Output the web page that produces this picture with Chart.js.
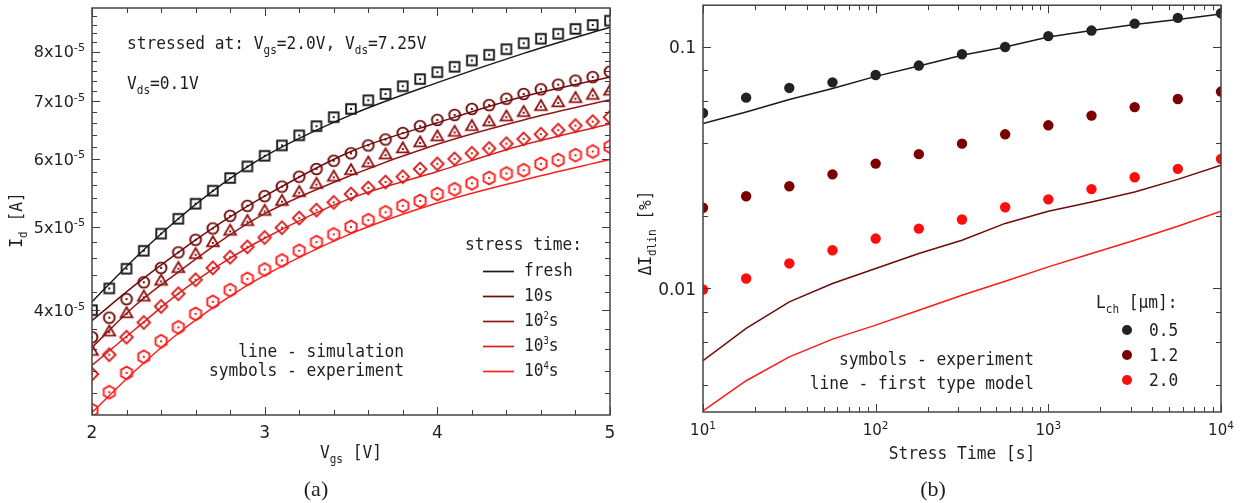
<!DOCTYPE html>
<html><head><meta charset="utf-8">
<script src="https://cdn.jsdelivr.net/npm/chart.js@4.4.0/dist/chart.umd.min.js"></script>
<style>
html,body{margin:0;padding:0;background:#fff;width:1246px;height:503px;overflow:hidden}
#ca{position:absolute;left:0;top:0}
#cb{position:absolute;left:623px;top:0}
</style></head><body>
<canvas id="ca" width="623" height="503"></canvas>
<canvas id="cb" width="623" height="503"></canvas>
<script>
// ---------------- Panel (a) data ----------------
const vgs = [2.0,2.1,2.2,2.3,2.4,2.5,2.6,2.7,2.8,2.9,3.0,3.1,3.2,3.3,3.4,3.5,3.6,3.7,3.8,3.9,4.0,4.1,4.2,4.3,4.4,4.5,4.6,4.7,4.8,4.9,5.0];
const expFresh = [4.00e-5,4.24e-5,4.47e-5,4.69e-5,4.91e-5,5.11e-5,5.32e-5,5.51e-5,5.70e-5,5.88e-5,6.05e-5,6.22e-5,6.39e-5,6.55e-5,6.71e-5,6.86e-5,7.02e-5,7.14e-5,7.29e-5,7.43e-5,7.57e-5,7.68e-5,7.81e-5,7.93e-5,8.05e-5,8.18e-5,8.28e-5,8.39e-5,8.50e-5,8.59e-5,8.69e-5];
const exp10s = [3.72e-5,3.92e-5,4.12e-5,4.31e-5,4.48e-5,4.67e-5,4.83e-5,4.98e-5,5.15e-5,5.29e-5,5.43e-5,5.57e-5,5.72e-5,5.84e-5,5.97e-5,6.09e-5,6.22e-5,6.32e-5,6.43e-5,6.55e-5,6.66e-5,6.75e-5,6.86e-5,6.93e-5,7.05e-5,7.14e-5,7.23e-5,7.32e-5,7.40e-5,7.47e-5,7.58e-5];
const exp100s = [3.58e-5,3.77e-5,3.96e-5,4.14e-5,4.32e-5,4.47e-5,4.64e-5,4.79e-5,4.94e-5,5.07e-5,5.21e-5,5.35e-5,5.48e-5,5.60e-5,5.71e-5,5.81e-5,5.93e-5,6.06e-5,6.16e-5,6.26e-5,6.36e-5,6.44e-5,6.54e-5,6.62e-5,6.71e-5,6.79e-5,6.90e-5,6.97e-5,7.05e-5,7.11e-5,7.19e-5];
const exp1000s = [3.37e-5,3.55e-5,3.72e-5,3.87e-5,4.04e-5,4.18e-5,4.34e-5,4.48e-5,4.61e-5,4.74e-5,4.86e-5,4.99e-5,5.12e-5,5.23e-5,5.34e-5,5.46e-5,5.55e-5,5.64e-5,5.72e-5,5.84e-5,5.92e-5,6.00e-5,6.09e-5,6.17e-5,6.25e-5,6.33e-5,6.41e-5,6.48e-5,6.56e-5,6.63e-5,6.71e-5];
const exp10000s = [3.06e-5,3.21e-5,3.38e-5,3.53e-5,3.68e-5,3.82e-5,3.96e-5,4.09e-5,4.22e-5,4.35e-5,4.46e-5,4.57e-5,4.69e-5,4.80e-5,4.90e-5,5.00e-5,5.09e-5,5.20e-5,5.29e-5,5.36e-5,5.46e-5,5.53e-5,5.62e-5,5.70e-5,5.77e-5,5.82e-5,5.92e-5,5.98e-5,6.06e-5,6.12e-5,6.20e-5];
const vgsSim = [2.0,2.25,2.5,2.75,3.0,3.5,4.0,4.5,5.0];
const simFresh = [4.09e-5,4.60e-5,5.11e-5,5.60e-5,6.04e-5,6.75e-5,7.36e-5,7.96e-5,8.54e-5];
const sim10s = [3.89e-5,4.28e-5,4.67e-5,5.06e-5,5.43e-5,6.12e-5,6.61e-5,7.09e-5,7.47e-5];
const sim100s = [3.62e-5,4.05e-5,4.43e-5,4.82e-5,5.18e-5,5.74e-5,6.24e-5,6.66e-5,7.03e-5];
const sim1000s = [3.45e-5,3.80e-5,4.18e-5,4.53e-5,4.85e-5,5.40e-5,5.80e-5,6.23e-5,6.59e-5];
const sim10000s = [3.04e-5,3.40e-5,3.76e-5,4.09e-5,4.39e-5,4.91e-5,5.33e-5,5.67e-5,5.99e-5];
const seriesLabelsA = ['fresh','10s','10^{2}s','10^{3}s','10^{4}s'];
const xTicksA = [2.0,2.2,2.4,2.6,2.8,3.0,3.2,3.4,3.6,3.8,4.0,4.2,4.4,4.6,4.8,5.0];
const xMajorA = [2,3,4,5];
const xLabelsA = ['2','3','4','5'];
const yTicksA = [3.2e-5,3.4e-5,3.6e-5,3.8e-5,4.0e-5,4.2e-5,4.4e-5,4.6e-5,4.8e-5,5.0e-5,5.2e-5,5.4e-5,5.6e-5,5.8e-5,6.0e-5,6.2e-5,6.4e-5,6.6e-5,6.8e-5,7.0e-5,7.2e-5,7.4e-5,7.6e-5,7.8e-5,8.0e-5,8.2e-5,8.4e-5,8.6e-5,8.8e-5];
const yMajorA = [4e-5,5e-5,6e-5,7e-5,8e-5];
const yLabelsA = ['4x10^{-5}','5x10^{-5}','6x10^{-5}','7x10^{-5}','8x10^{-5}'];

// ---------------- Panel (b) data ----------------
const stressTime = [10,17.78,31.62,56.23,100,177.8,316.2,562.3,1000,1778,3162,5623,10000];
const expL05 = [0.0533,0.0617,0.0677,0.0714,0.0766,0.0838,0.0933,0.100,0.111,0.117,0.125,0.132,0.138];
const expL12 = [0.0216,0.0241,0.0265,0.0297,0.0329,0.0360,0.0398,0.0435,0.0474,0.0520,0.0564,0.0609,0.0654];
const expL20 = [0.0099,0.0110,0.0127,0.0144,0.0161,0.0177,0.0193,0.0217,0.0234,0.0258,0.0289,0.0313,0.0344];
const modL05 = [0.0482,0.0538,0.0606,0.0673,0.0756,0.0835,0.0924,0.100,0.110,0.117,0.124,0.130,0.137];
const modL12 = [0.00502,0.00683,0.0088,0.01049,0.0121,0.01396,0.01585,0.0186,0.0209,0.0228,0.0251,0.0283,0.0324];
const modL20 = [0.00311,0.00415,0.00521,0.00617,0.00705,0.00813,0.00938,0.01072,0.01229,0.01396,0.01585,0.0181,0.0209];
const seriesLabelsB = ['0.5','1.2','2.0'];
const xTicksB = [10,20,30,40,50,60,70,80,90,100,200,300,400,500,600,700,800,900,1000,2000,3000,4000,5000,6000,7000,8000,9000,10000];
const xMajorB = [10,100,1000,10000];
const xLabelsB = ['10^{1}','10^{2}','10^{3}','10^{4}'];
const yTicksB = [0.004,0.006,0.008,0.01,0.02,0.04,0.06,0.08,0.1];
const yMajorB = [0.01,0.1];
const yLabelsB = ['0.01','0.1'];

// ---------------- styling ----------------
const colorsA = ['#1a1a1a','#6e0b0b','#921414','#d81e1e','#ff1e1e'];
const shapesA = ['square','circle','triangle','diamond','hexagon'];
const colorsB = ['#222222','#7d0000','#ff0d0d'];
const lineColorsB = ['#1a1a1a','#6e0a0a','#ff1a1a'];
const MONO = '"DejaVu Sans Mono", monospace';
const SANS = '"DejaVu Sans", sans-serif';
const SERIF = '"Liberation Serif", serif';
const TXT = '#1e1e1e';
const MONO_OPT = {size:18, fam:MONO, sx:0.9, subScale:0.68};

function makeMarker(shape, color){
  const s = 20, m = s/2;
  const c = document.createElement('canvas'); c.width = s; c.height = s;
  const g = c.getContext('2d');
  g.strokeStyle = color; g.fillStyle = color; g.lineWidth = 1.9;
  g.beginPath();
  if (shape === 'square') { g.rect(m-4.8, m-4.8, 9.6, 9.6); }
  else if (shape === 'circle') { g.arc(m, m, 5.4, 0, 2*Math.PI); }
  else if (shape === 'triangle') { const r = 6.7; g.moveTo(m, m-r); g.lineTo(m+r*0.866, m+r*0.5); g.lineTo(m-r*0.866, m+r*0.5); g.closePath(); }
  else if (shape === 'diamond') { const r = 6.3; g.moveTo(m, m-r); g.lineTo(m+r, m); g.lineTo(m, m+r); g.lineTo(m-r, m); g.closePath(); }
  else if (shape === 'hexagon') { const r = 6.4; for (let k=0;k<6;k++){ const a = -Math.PI/2 + k*Math.PI/3; const px = m + r*Math.cos(a), py = m + r*Math.sin(a); if(k===0) g.moveTo(px,py); else g.lineTo(px,py);} g.closePath(); }
  g.stroke();
  g.fillRect(m-1, m-1, 2, 2);
  return c;
}

function parseRich(s){
  const out = []; let buf = ''; let i = 0;
  while (i < s.length) {
    if ((s[i] === '_' || s[i] === '^') && s[i+1] === '{') {
      if (buf) { out.push({t:buf, m:0}); buf = ''; }
      const j = s.indexOf('}', i);
      out.push({t:s.slice(i+2, j), m: s[i] === '_' ? 1 : 2});
      i = j + 1;
    } else { buf += s[i]; i++; }
  }
  if (buf) out.push({t:buf, m:0});
  return out;
}
function drawRich(ctx, s, x, cy, o){
  const size = o.size, fam = o.fam, ss = size*(o.subScale||0.7), sxf = o.sx || 1;
  const parts = parseRich(s);
  let w = 0;
  parts.forEach(p => { ctx.font = `${p.m ? ss : size}px ${fam}`; p.w = ctx.measureText(p.t).width*sxf; w += p.w; });
  let px = o.align === 'right' ? x - w : (o.align === 'center' ? x - w/2 : x);
  const base = cy + size*0.36;
  ctx.fillStyle = o.color || TXT; ctx.textBaseline = 'alphabetic'; ctx.textAlign = 'left';
  parts.forEach(p => {
    ctx.font = `${p.m ? ss : size}px ${fam}`;
    const dy = p.m === 1 ? size*0.24 : (p.m === 2 ? -size*0.40 : 0);
    ctx.save(); ctx.translate(px, base + dy); ctx.scale(sxf, 1);
    ctx.fillText(p.t, 0, 0);
    ctx.restore();
    px += p.w;
  });
}
function drawRichRot(ctx, s, x, cy, o){
  ctx.save(); ctx.translate(x, cy); ctx.rotate(-Math.PI/2);
  drawRich(ctx, s, 0, 0, Object.assign({}, o, {align:'center'}));
  ctx.restore();
}
const isMaj = (v, list) => list.some(m => Math.abs(m - v) <= Math.abs(m)*1e-6);
function frameAndTicks(chart, xMajor, yMajor){
  const {ctx, chartArea:a, scales:{x, y}} = chart;
  ctx.save();
  ctx.strokeStyle = '#3a3a3a'; ctx.lineWidth = 1;
  ctx.beginPath();
  x.ticks.forEach(t => {
    const p = Math.round(x.getPixelForValue(t.value)) + 0.5;
    const L = isMaj(t.value, xMajor) ? 8 : 5;
    ctx.moveTo(p, a.bottom); ctx.lineTo(p, a.bottom - L);
    ctx.moveTo(p, a.top); ctx.lineTo(p, a.top + L);
  });
  y.ticks.forEach(t => {
    const p = Math.round(y.getPixelForValue(t.value)) + 0.5;
    const L = isMaj(t.value, yMajor) ? 8 : 5;
    ctx.moveTo(a.left, p); ctx.lineTo(a.left + L, p);
    ctx.moveTo(a.right, p); ctx.lineTo(a.right - L, p);
  });
  ctx.stroke();
  ctx.lineWidth = 1.5; ctx.strokeStyle = '#444';
  ctx.strokeRect(a.left, a.top, a.right - a.left, a.bottom - a.top);
  ctx.restore();
}
function tickLabels(chart, xMajor, xLabels, yMajor, yLabels, xo, yo){
  const {ctx, chartArea:a, scales:{x, y}} = chart;
  xMajor.forEach((v, i) => drawRich(ctx, xLabels[i], x.getPixelForValue(v), a.bottom + xo.dy, {size:xo.size, fam:SANS, align:'center'}));
  yMajor.forEach((v, i) => drawRich(ctx, yLabels[i], a.left - yo.dx, y.getPixelForValue(v), {size:yo.size, fam:SANS, align:'right'}));
}

// ---------------- Chart (a) ----------------
const simA = [simFresh, sim10s, sim100s, sim1000s, sim10000s];
const expA = [expFresh, exp10s, exp100s, exp1000s, exp10000s];
const dsA = [];
expA.forEach((arr, i) => dsA.push({
  label: seriesLabelsA[i] + ' exp',
  data: vgs.map((v, k) => ({x:v, y:arr[k]})),
  showLine: false, pointStyle: makeMarker(shapesA[i], colorsA[i]), pointRadius: 6, clip: 0
}));
simA.forEach((arr, i) => dsA.push({
  label: seriesLabelsA[i], isSim: true,
  data: vgsSim.map((v, k) => ({x:v, y:arr[k]})),
  showLine: true, borderColor: colorsA[i], borderWidth: 1.5, pointRadius: 0,
  cubicInterpolationMode: 'monotone', clip: 0
}));

const pluginA = {
  id: 'decorA',
  afterDraw(chart){
    const ctx = chart.ctx;
    frameAndTicks(chart, xMajorA, yMajorA);
    tickLabels(chart, xMajorA, xLabelsA, yMajorA, yLabelsA, {dy:17, size:17}, {dx:7, size:16});
    drawRich(ctx, 'V_{gs} [V]', 351, 452, Object.assign({}, MONO_OPT, {align:'center'}));
    drawRichRot(ctx, 'I_{d} [A]', 16, 220, MONO_OPT);
    ctx.font = `22px ${SERIF}`; ctx.fillStyle = TXT; ctx.textAlign = 'center'; ctx.textBaseline = 'middle';
    ctx.fillText('(a)', 316, 490);
    drawRich(ctx, 'stressed at: V_{gs}=2.0V, V_{ds}=7.25V', 127, 43, Object.assign({}, MONO_OPT, {align:'left'}));
    drawRich(ctx, 'V_{ds}=0.1V', 127, 83, Object.assign({}, MONO_OPT, {align:'left'}));
    drawRich(ctx, 'line - simulation', 404, 351, Object.assign({}, MONO_OPT, {align:'right'}));
    drawRich(ctx, 'symbols - experiment', 404, 370, Object.assign({}, MONO_OPT, {align:'right'}));
    drawRich(ctx, 'stress time:', 465, 244, Object.assign({}, MONO_OPT, {align:'left'}));
    const sims = chart.data.datasets.filter(d => d.isSim);
    sims.forEach((d, i) => {
      const yy = 270 + i*25;
      ctx.save(); ctx.strokeStyle = d.borderColor; ctx.lineWidth = 1.7;
      ctx.beginPath(); ctx.moveTo(483, yy + 1.5); ctx.lineTo(514, yy + 1.5); ctx.stroke(); ctx.restore();
      drawRich(ctx, d.label, 524, yy, Object.assign({}, MONO_OPT, {align:'left', subScale:0.55}));
    });
  }
};

new Chart(document.getElementById('ca'), {
  type: 'scatter',
  data: {datasets: dsA},
  options: {
    responsive: false, animation: false, devicePixelRatio: 1, events: [],
    layout: {padding: {left: 0, top: 8, right: 13, bottom: 0}},
    plugins: {legend: {display: false}, tooltip: {enabled: false}},
    scales: {
      x: {type: 'linear', min: 2, max: 5, bounds: 'data',
          grid: {display: false, drawTicks: false}, border: {display: false}, ticks: {display: false},
          afterBuildTicks: s => { s.ticks = xTicksA.map(v => ({value: v})); },
          afterFit: s => { s.height = 88; }},
      y: {type: 'logarithmic', min: 3.02e-5, max: 8.99e-5, bounds: 'data',
          grid: {display: false, drawTicks: false}, border: {display: false}, ticks: {display: false},
          afterBuildTicks: s => { s.ticks = yTicksA.map(v => ({value: v})); },
          afterFit: s => { s.width = 92; }}
    }
  },
  plugins: [pluginA]
});

// ---------------- Chart (b) ----------------
const expB = [expL05, expL12, expL20];
const modB = [modL05, modL12, modL20];
const dsB = [];
expB.forEach((arr, i) => dsB.push({
  label: seriesLabelsB[i], isExp: true,
  data: stressTime.map((t, k) => ({x:t, y:arr[k]})),
  showLine: false, pointStyle: 'circle', pointRadius: 5.2, pointBorderWidth: 0,
  backgroundColor: colorsB[i], borderColor: colorsB[i], clip: 0
}));
modB.forEach((arr, i) => dsB.push({
  label: seriesLabelsB[i] + ' model',
  data: stressTime.map((t, k) => ({x:t, y:arr[k]})),
  showLine: true, borderColor: lineColorsB[i], borderWidth: 1.5, pointRadius: 0, tension: 0, clip: 0
}));

const pluginB = {
  id: 'decorB',
  afterDraw(chart){
    const ctx = chart.ctx;
    frameAndTicks(chart, xMajorB, yMajorB);
    tickLabels(chart, xMajorB, xLabelsB, yMajorB, yLabelsB, {dy:18, size:15}, {dx:7, size:17});
    drawRich(ctx, 'Stress Time [s]', 339, 453, Object.assign({}, MONO_OPT, {align:'center'}));
    drawRichRot(ctx, 'ΔI_{dlin} [%]', 22, 233, MONO_OPT);
    ctx.font = `22px ${SERIF}`; ctx.fillStyle = TXT; ctx.textAlign = 'center'; ctx.textBaseline = 'middle';
    ctx.fillText('(b)', 310, 490);
    drawRich(ctx, 'symbols - experiment', 411, 359, Object.assign({}, MONO_OPT, {align:'right'}));
    drawRich(ctx, 'line - first type model', 411, 383, Object.assign({}, MONO_OPT, {align:'right'}));
    drawRich(ctx, 'L_{ch} [μm]:', 473, 302, Object.assign({}, MONO_OPT, {align:'left'}));
    chart.data.datasets.filter(d => d.isExp).forEach((d, i) => {
      const yy = 330 + i*25;
      ctx.save(); ctx.fillStyle = d.backgroundColor; ctx.beginPath(); ctx.arc(504, yy, 5, 0, 2*Math.PI); ctx.fill(); ctx.restore();
      drawRich(ctx, d.label, 526, yy, Object.assign({}, MONO_OPT, {align:'left'}));
    });
  }
};

new Chart(document.getElementById('cb'), {
  type: 'scatter',
  data: {datasets: dsB},
  options: {
    responsive: false, animation: false, devicePixelRatio: 1, events: [],
    layout: {padding: {left: 0, top: 5, right: 25, bottom: 0}},
    plugins: {legend: {display: false}, tooltip: {enabled: false}},
    scales: {
      x: {type: 'logarithmic', min: 10, max: 10000, bounds: 'data',
          grid: {display: false, drawTicks: false}, border: {display: false}, ticks: {display: false},
          afterBuildTicks: s => { s.ticks = xTicksB.map(v => ({value: v})); },
          afterFit: s => { s.height = 91; }},
      y: {type: 'logarithmic', min: 0.00308, max: 0.149, bounds: 'data',
          grid: {display: false, drawTicks: false}, border: {display: false}, ticks: {display: false},
          afterBuildTicks: s => { s.ticks = yTicksB.map(v => ({value: v})); },
          afterFit: s => { s.width = 80; }}
    }
  },
  plugins: [pluginB]
});
</script>
</body></html>
